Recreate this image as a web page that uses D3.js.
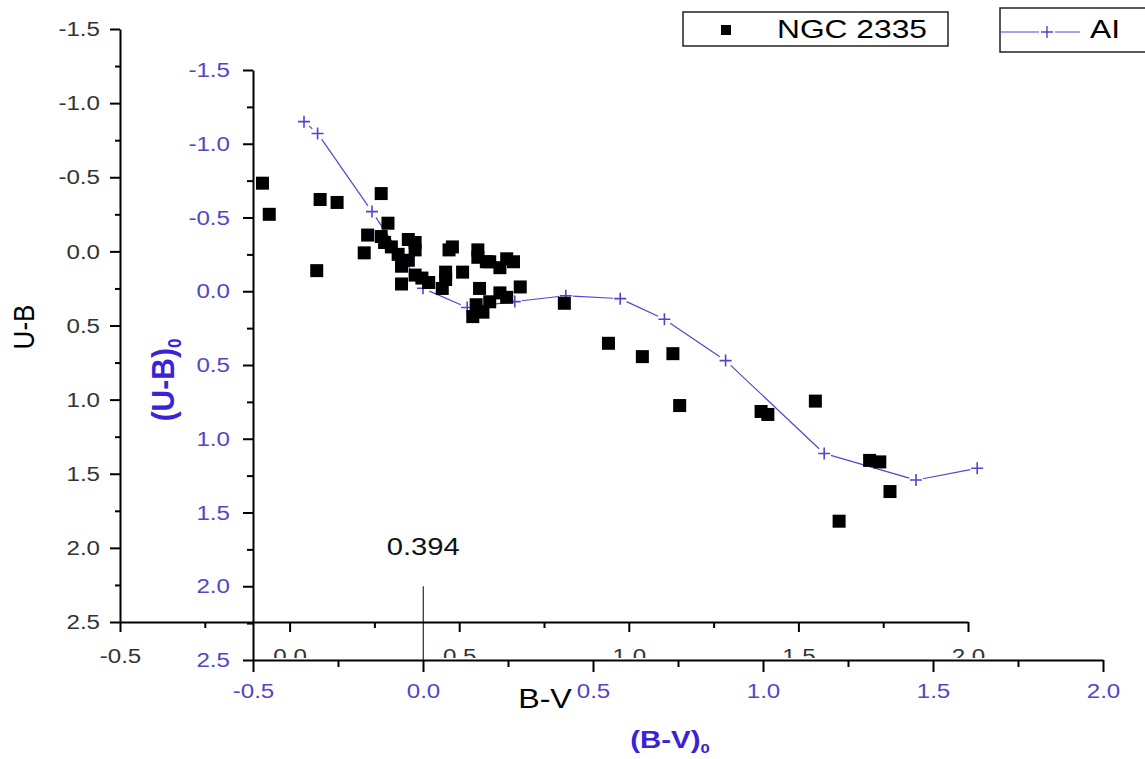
<!DOCTYPE html>
<html>
<head>
<meta charset="utf-8">
<script src="https://cdn.jsdelivr.net/npm/d3@7"></script>
<style>
  body { margin: 0; background: #fff; }
  svg { display: block; font-family: "Liberation Sans", Arial, sans-serif; }
</style>
</head>
<body>
<div class="canvas"></div>
<script>
// observed colours of NGC 2335 stars (B-V, U-B)
const bvObs = [-0.08, -0.06, 0.09, 0.14, 0.27, 0.08, 0.22, 0.23, 0.29, 0.27, 0.28, 0.30, 0.35, 0.37, 0.37,
  0.32, 0.35, 0.33, 0.37, 0.39, 0.41, 0.33, 0.46, 0.46, 0.45, 0.47, 0.48, 0.51, 0.555, 0.555,
  0.58, 0.59, 0.62, 0.64, 0.66, 0.56, 0.62, 0.64, 0.68, 0.55, 0.57, 0.54, 0.59, 0.81, 0.94,
  1.04, 1.13, 1.15, 1.39, 1.41, 1.55, 1.71, 1.74, 1.77, 1.62]
const ubObs = [-0.46, -0.25, -0.35, -0.33, -0.39, 0.13, 0.01, -0.11, -0.19, -0.10, -0.06, -0.03, -0.08, -0.06, -0.01,
  0.02, 0.06, 0.10, 0.16, 0.18, 0.21, 0.22, 0.14, 0.19, 0.25, -0.01, -0.03, 0.14, -0.01, 0.04,
  0.07, 0.07, 0.11, 0.05, 0.07, 0.25, 0.28, 0.31, 0.24, 0.36, 0.41, 0.44, 0.34, 0.35, 0.62,
  0.71, 0.69, 1.04, 1.08, 1.10, 1.01, 1.41, 1.42, 1.62, 1.82]

// intrinsic sequence (B-V)0, (U-B)0
const bv0 = [-0.35, -0.31, -0.15, 0.0, 0.13, 0.27, 0.42, 0.58, 0.71, 0.89, 1.18, 1.45, 1.63]
const ub0 = [-1.15, -1.07, -0.54, -0.02, 0.11, 0.07, 0.03, 0.05, 0.19, 0.47, 1.10, 1.28, 1.20]

const xTicks = [-0.5, 0.0, 0.5, 1.0, 1.5, 2.0]
const yTicks = [-1.5, -1.0, -0.5, 0.0, 0.5, 1.0, 1.5, 2.0, 2.5]
const xMinor = [-0.25, 0.25, 0.75, 1.25, 1.75]
const yMinor = [-1.25, -0.75, -0.25, 0.25, 0.75, 1.25, 1.75, 2.25]
const cutBV = 0.394

const width = 1145
const height = 759
const K = 1.15 // the picture is stretched sideways
const blueText = '#5545c8'
const blueTitle = '#3b22d6'
const lineColor = '#5b40d0'

const svg = d3.select('.canvas').append('svg')
  .attr('width', width)
  .attr('height', height)

const xB = d3.scaleLinear().domain([-0.5, 2.0]).range([120, 968])
const yB = d3.scaleLinear().domain([-1.5, 2.5]).range([29, 622])
const xI = d3.scaleLinear().domain([-0.5, 2.0]).range([253, 1103])
const yI = d3.scaleLinear().domain([-1.5, 2.5]).range([70, 660])

const fmt = d => d.toFixed(1)

const stretch = (sel, origin = 'center', k = K) => sel
  .style('transform-box', 'fill-box')
  .style('transform-origin', origin)
  .style('transform', `scaleX(${k})`)

const styleAxis = (g, color) => {
  g.select('.domain').attr('stroke', '#000').attr('stroke-width', 2)
  g.selectAll('.tick line').attr('stroke', '#000').attr('stroke-width', 2)
  g.selectAll('text').attr('fill', color).attr('font-size', 21)
    .attr('font-family', '"Liberation Sans", Arial, sans-serif')
}

// black (observed) axes
const yAxisB = svg.append('g').attr('transform', `translate(${xB(-0.5)},0)`)
yAxisB.call(d3.axisLeft(yB).tickValues(yTicks).tickSize(10).tickSizeOuter(0).tickPadding(10).tickFormat(fmt))
styleAxis(yAxisB, '#333')
stretch(yAxisB.selectAll('text'), 'right center')
svg.append('g').attr('transform', `translate(${xB(-0.5)},0)`)
  .call(d3.axisLeft(yB).tickValues(yMinor).tickSize(5).tickFormat(''))
  .call(g => { g.select('.domain').remove(); styleAxis(g, '#333') })

const xAxisB = svg.append('g').attr('transform', `translate(0,${yB(2.5)})`)
xAxisB.call(d3.axisBottom(xB).tickValues(xTicks).tickSize(10).tickSizeOuter(0).tickPadding(16).tickFormat(fmt))
styleAxis(xAxisB, '#333')
stretch(xAxisB.selectAll('text'))
svg.append('g').attr('transform', `translate(0,${yB(2.5)})`)
  .call(d3.axisBottom(xB).tickValues(xMinor).tickSize(6).tickFormat(''))
  .call(g => { g.select('.domain').remove(); styleAxis(g, '#333') })

// the second frame sits on top and hides the lower half of the black labels
svg.append('rect')
  .attr('x', xB(-0.5) + 30).attr('y', yI(2.5) - 2)
  .attr('width', width).attr('height', height)
  .attr('fill', '#fff')

// blue (intrinsic) axes
const yAxisI = svg.append('g').attr('transform', `translate(${xI(-0.5)},0)`)
yAxisI.call(d3.axisLeft(yI).tickValues(yTicks).tickSize(10).tickSizeOuter(0).tickPadding(13).tickFormat(fmt))
styleAxis(yAxisI, blueText)
stretch(yAxisI.selectAll('text'), 'right center')
svg.append('g').attr('transform', `translate(${xI(-0.5)},0)`)
  .call(d3.axisLeft(yI).tickValues(yMinor).tickSize(6).tickFormat(''))
  .call(g => { g.select('.domain').remove(); styleAxis(g, '#333') })

const xAxisI = svg.append('g').attr('transform', `translate(0,${yI(2.5)})`)
xAxisI.call(d3.axisBottom(xI).tickValues(xTicks).tickSize(12).tickSizeOuter(0).tickPadding(11).tickFormat(fmt))
styleAxis(xAxisI, blueText)
stretch(xAxisI.selectAll('text'))
svg.append('g').attr('transform', `translate(0,${yI(2.5)})`)
  .call(d3.axisBottom(xI).tickValues(xMinor).tickSize(7).tickFormat(''))
  .call(g => { g.select('.domain').remove(); styleAxis(g, '#333') })

// axis titles
stretch(svg.append('text')
  .attr('x', 545).attr('y', 708)
  .attr('text-anchor', 'middle').attr('font-size', 28).attr('fill', '#000')
  .text('B-V'), 'center', 1.15)

const bvTitle = svg.append('text')
  .attr('x', 670).attr('y', 748)
  .attr('text-anchor', 'middle').attr('font-size', 23).attr('font-weight', 'bold')
  .attr('fill', blueTitle)
bvTitle.append('tspan').text('(B-V)')
bvTitle.append('tspan').attr('font-size', 13).attr('dy', 5).text('0')
stretch(bvTitle, 'center', 1.28)

const ubTitle = svg.append('g').attr('transform', 'translate(33,327) rotate(-90)')
  .append('text')
  .attr('text-anchor', 'middle').attr('font-size', 26).attr('fill', '#000')
  .text('U-B')
ubTitle.style('transform-box', 'fill-box').style('transform-origin', 'center').style('transform', 'scaleY(1.1)')

const ub0Title = svg.append('g').attr('transform', 'translate(174,380) rotate(-90)')
  .append('text')
  .attr('text-anchor', 'middle').attr('font-size', 30).attr('font-weight', 'bold')
  .attr('fill', blueTitle)
ub0Title.append('tspan').text('(U-B)')
ub0Title.append('tspan').attr('font-size', 17).attr('dy', 6).text('0')
ub0Title.style('transform-box', 'fill-box').style('transform-origin', 'center').style('transform', 'scaleY(1.05)')

// marker line at B-V = 0.394
svg.append('line')
  .attr('x1', xB(cutBV)).attr('x2', xB(cutBV))
  .attr('y1', yI(2.0)).attr('y2', yI(2.5))
  .attr('stroke', '#000').attr('stroke-width', 1)
stretch(svg.append('text')
  .attr('x', xB(cutBV)).attr('y', 555)
  .attr('text-anchor', 'middle').attr('font-size', 23).attr('fill', '#111')
  .text(cutBV.toString()), 'center', 1.27)

// intrinsic sequence: segments stop short of each cross
const pts = bv0.map((d, i) => [xI(d), yI(ub0[i])])
const gap = 7
svg.append('g').selectAll('line')
  .data(d3.pairs(pts))
  .enter().append('line')
  .each(function ([p, q]) {
    const dx = q[0] - p[0]
    const dy = q[1] - p[1]
    const len = Math.hypot(dx, dy)
    const ux = dx / len
    const uy = dy / len
    d3.select(this)
      .attr('x1', p[0] + ux * gap).attr('y1', p[1] + uy * gap)
      .attr('x2', q[0] - ux * gap).attr('y2', q[1] - uy * gap)
  })
  .attr('stroke', lineColor).attr('stroke-width', 1.2)

svg.append('g').selectAll('path')
  .data(pts)
  .enter().append('path')
  .attr('d', d => `M${d[0] - 6},${d[1]}h12M${d[0]},${d[1] - 6}v12`)
  .attr('stroke', lineColor).attr('stroke-width', 1.6).attr('fill', 'none')

// observed stars
const sq = 13
svg.append('g').selectAll('rect')
  .data(bvObs)
  .enter().append('rect')
  .attr('x', d => xB(d) - sq / 2)
  .attr('y', (d, i) => yB(ubObs[i]) - sq / 2)
  .attr('width', sq)
  .attr('height', sq)
  .attr('fill', '#000')

// legends
const leg1 = svg.append('g')
leg1.append('rect').attr('x', 683).attr('y', 12).attr('width', 265).attr('height', 34)
  .attr('fill', '#fff').attr('stroke', '#222').attr('stroke-width', 1.5)
leg1.append('rect').attr('x', 721).attr('y', 25).attr('width', 10).attr('height', 10).attr('fill', '#000')
stretch(leg1.append('text').attr('x', 777).attr('y', 38).attr('font-size', 25).attr('fill', '#000')
  .text('NGC 2335'), 'left center', 1.27)

const leg2 = svg.append('g')
leg2.append('rect').attr('x', 1000).attr('y', 8).attr('width', 200).attr('height', 44)
  .attr('fill', '#fff').attr('stroke', '#222').attr('stroke-width', 1.5)
leg2.append('path').attr('d', 'M1000,32H1039M1055,32H1080')
  .attr('stroke', lineColor).attr('stroke-width', 1.2)
leg2.append('path').attr('d', 'M1041,32h12M1047,26v12')
  .attr('stroke', lineColor).attr('stroke-width', 1.4)
stretch(leg2.append('text').attr('x', 1090).attr('y', 38).attr('font-size', 25).attr('fill', '#000')
  .text('AI'), 'left center', 1.27)
</script>
</body>
</html>
